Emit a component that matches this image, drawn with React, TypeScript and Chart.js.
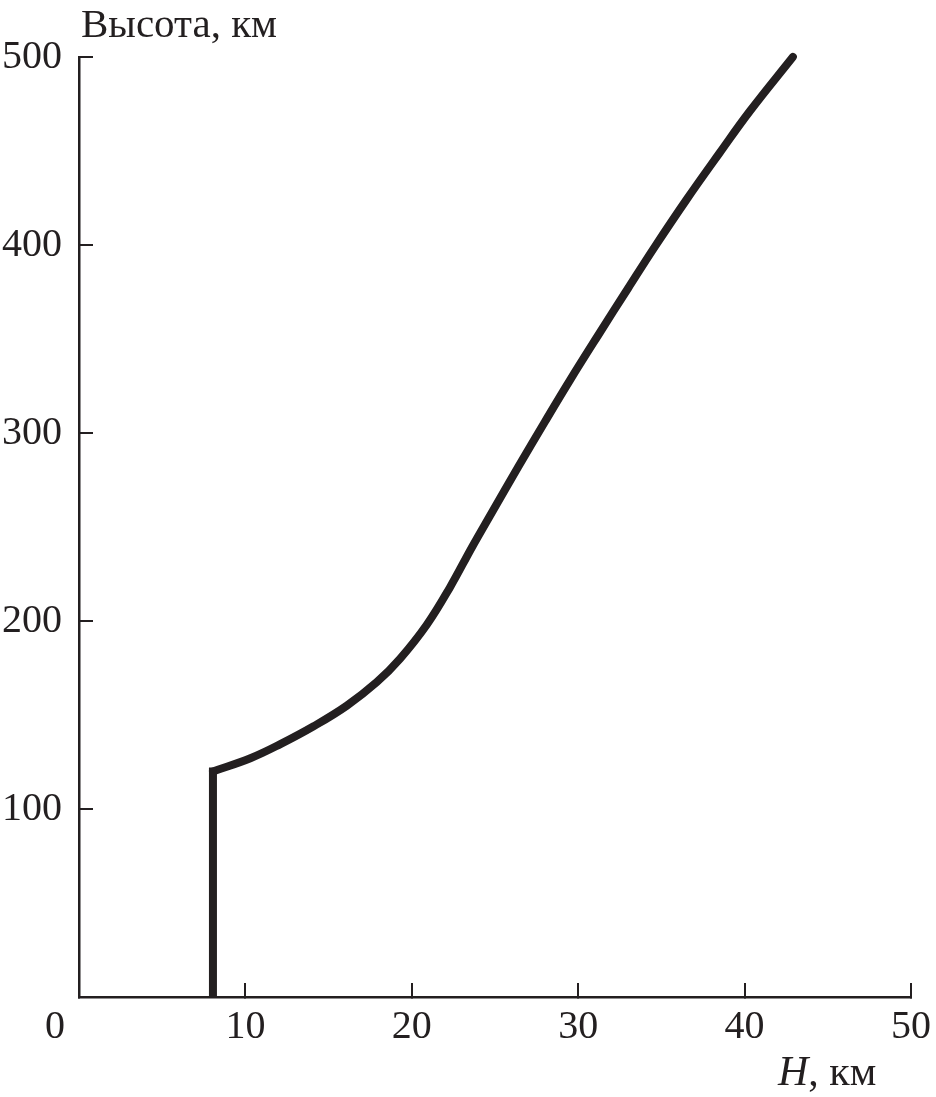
import React, { useEffect, useRef } from "react";
import { Chart, registerables } from "chart.js";

Chart.register(...registerables);

// Scale height H (km) vs altitude (km)
const lowerH = [8.05, 8.05];
const lowerAlt = [0, 120];

const upperH = [8.05, 10.3, 12.1, 14.1, 16.1, 17.9, 19.3, 20.9, 22.3, 23.6, 24.7, 26.4, 28.0, 29.5, 31.2, 33.0, 34.6, 36.5, 38.5, 40.3, 42.9];
const upperAlt = [120, 127, 134.5, 144, 155, 167.5, 180, 198, 218, 239, 256, 282, 306, 328, 352, 377, 399, 424, 449, 471, 500];

const xTicks = [0, 10, 20, 30, 40, 50];
const yTicks = [0, 100, 200, 300, 400, 500];

const yTitle = "Высота, км";
const xTitleItalic = "H";
const xTitleRest = ", км";

const INK = "#231f20";
const FONT = "'Liberation Serif', 'DejaVu Serif', serif";

const textPlugin = {
  id: "texts",
  afterDraw(chart: any) {
    const ctx = chart.ctx;
    const xs = chart.scales.x;
    const ys = chart.scales.y;
    ctx.save();
    ctx.fillStyle = INK;
    // y axis title
    ctx.font = `41px ${FONT}`;
    ctx.textAlign = "left";
    ctx.textBaseline = "alphabetic";
    ctx.fillText(yTitle, xs.left + 2, ys.top - 20);
    // origin "0"
    ctx.font = `40px ${FONT}`;
    ctx.textAlign = "center";
    ctx.textBaseline = "middle";
    ctx.fillText(String(xTicks[0]), xs.left - 24, ys.bottom + 30);
    // x axis title
    ctx.textAlign = "left";
    ctx.textBaseline = "alphabetic";
    ctx.font = `italic 42px ${FONT}`;
    const x0 = 778;
    const yb = ys.bottom + 88;
    ctx.fillText(xTitleItalic, x0, yb);
    const w = ctx.measureText(xTitleItalic).width;
    ctx.font = `42px ${FONT}`;
    ctx.fillText(xTitleRest, x0 + w, yb);
    ctx.restore();
  },
};

export default function App() {
  const ref = useRef<HTMLCanvasElement | null>(null);

  useEffect(() => {
    if (!ref.current) return;
    const chart = new Chart(ref.current, {
      type: "line",
      data: {
        datasets: [
          {
            data: lowerH.map((h, i) => ({ x: h, y: lowerAlt[i] })),
            borderColor: INK,
            borderWidth: 8,
            borderCapStyle: "square",
            pointRadius: 0,
            tension: 0,
            clip: 0,
          } as any,
          {
            data: upperH.map((h, i) => ({ x: h, y: upperAlt[i] })),
            borderColor: INK,
            borderWidth: 8,
            borderCapStyle: "round",
            borderJoinStyle: "round",
            pointRadius: 0,
            tension: 0.4,
            clip: false,
          } as any,
        ],
      },
      options: {
        responsive: false,
        animation: false,
        layout: { padding: { top: 57, right: 25, left: 0, bottom: 0 } },
        plugins: {
          legend: { display: false },
          tooltip: { enabled: false },
          title: { display: false },
        },
        scales: {
          x: {
            type: "linear",
            min: 0,
            max: 50,
            afterBuildTicks: (s: any) => {
              s.ticks = xTicks.map((v) => ({ value: v }));
            },
            afterFit: (s: any) => {
              s.height = 100;
              s.paddingLeft = 0;
              s.paddingRight = 0;
            },
            ticks: {
              color: INK,
              font: { family: FONT, size: 40 },
              padding: 20,
              maxRotation: 0,
              autoSkip: false,
              callback: (v: any) => (v === 0 ? "" : String(v)),
            },
            grid: {
              drawOnChartArea: false,
              drawTicks: true,
              tickLength: -14,
              color: INK,
              lineWidth: 2,
            },
            border: { display: true, color: INK, width: 2.5 },
          },
          y: {
            type: "linear",
            min: 0,
            max: 500,
            afterBuildTicks: (s: any) => {
              s.ticks = yTicks.map((v) => ({ value: v }));
            },
            afterFit: (s: any) => {
              s.width = 79;
              s.paddingTop = 0;
              s.paddingBottom = 0;
            },
            ticks: {
              color: INK,
              font: { family: FONT, size: 40 },
              padding: 31,
              autoSkip: false,
              callback: (v: any) => (v === 0 ? "" : String(v)),
            },
            grid: {
              drawOnChartArea: false,
              drawTicks: true,
              tickLength: -14,
              color: (c: any) => (c.tick && c.tick.value === 0 ? "rgba(0,0,0,0)" : INK),
              lineWidth: 2,
            },
            border: { display: true, color: INK, width: 2.5 },
          },
        },
      },
      plugins: [textPlugin],
    });
    return () => chart.destroy();
  }, []);

  return (
    <div style={{ position: "absolute", left: 0, top: 0, width: 936, height: 1097, background: "#fff" }}>
      <canvas ref={ref} width={936} height={1097} style={{ display: "block" }} />
    </div>
  );
}
